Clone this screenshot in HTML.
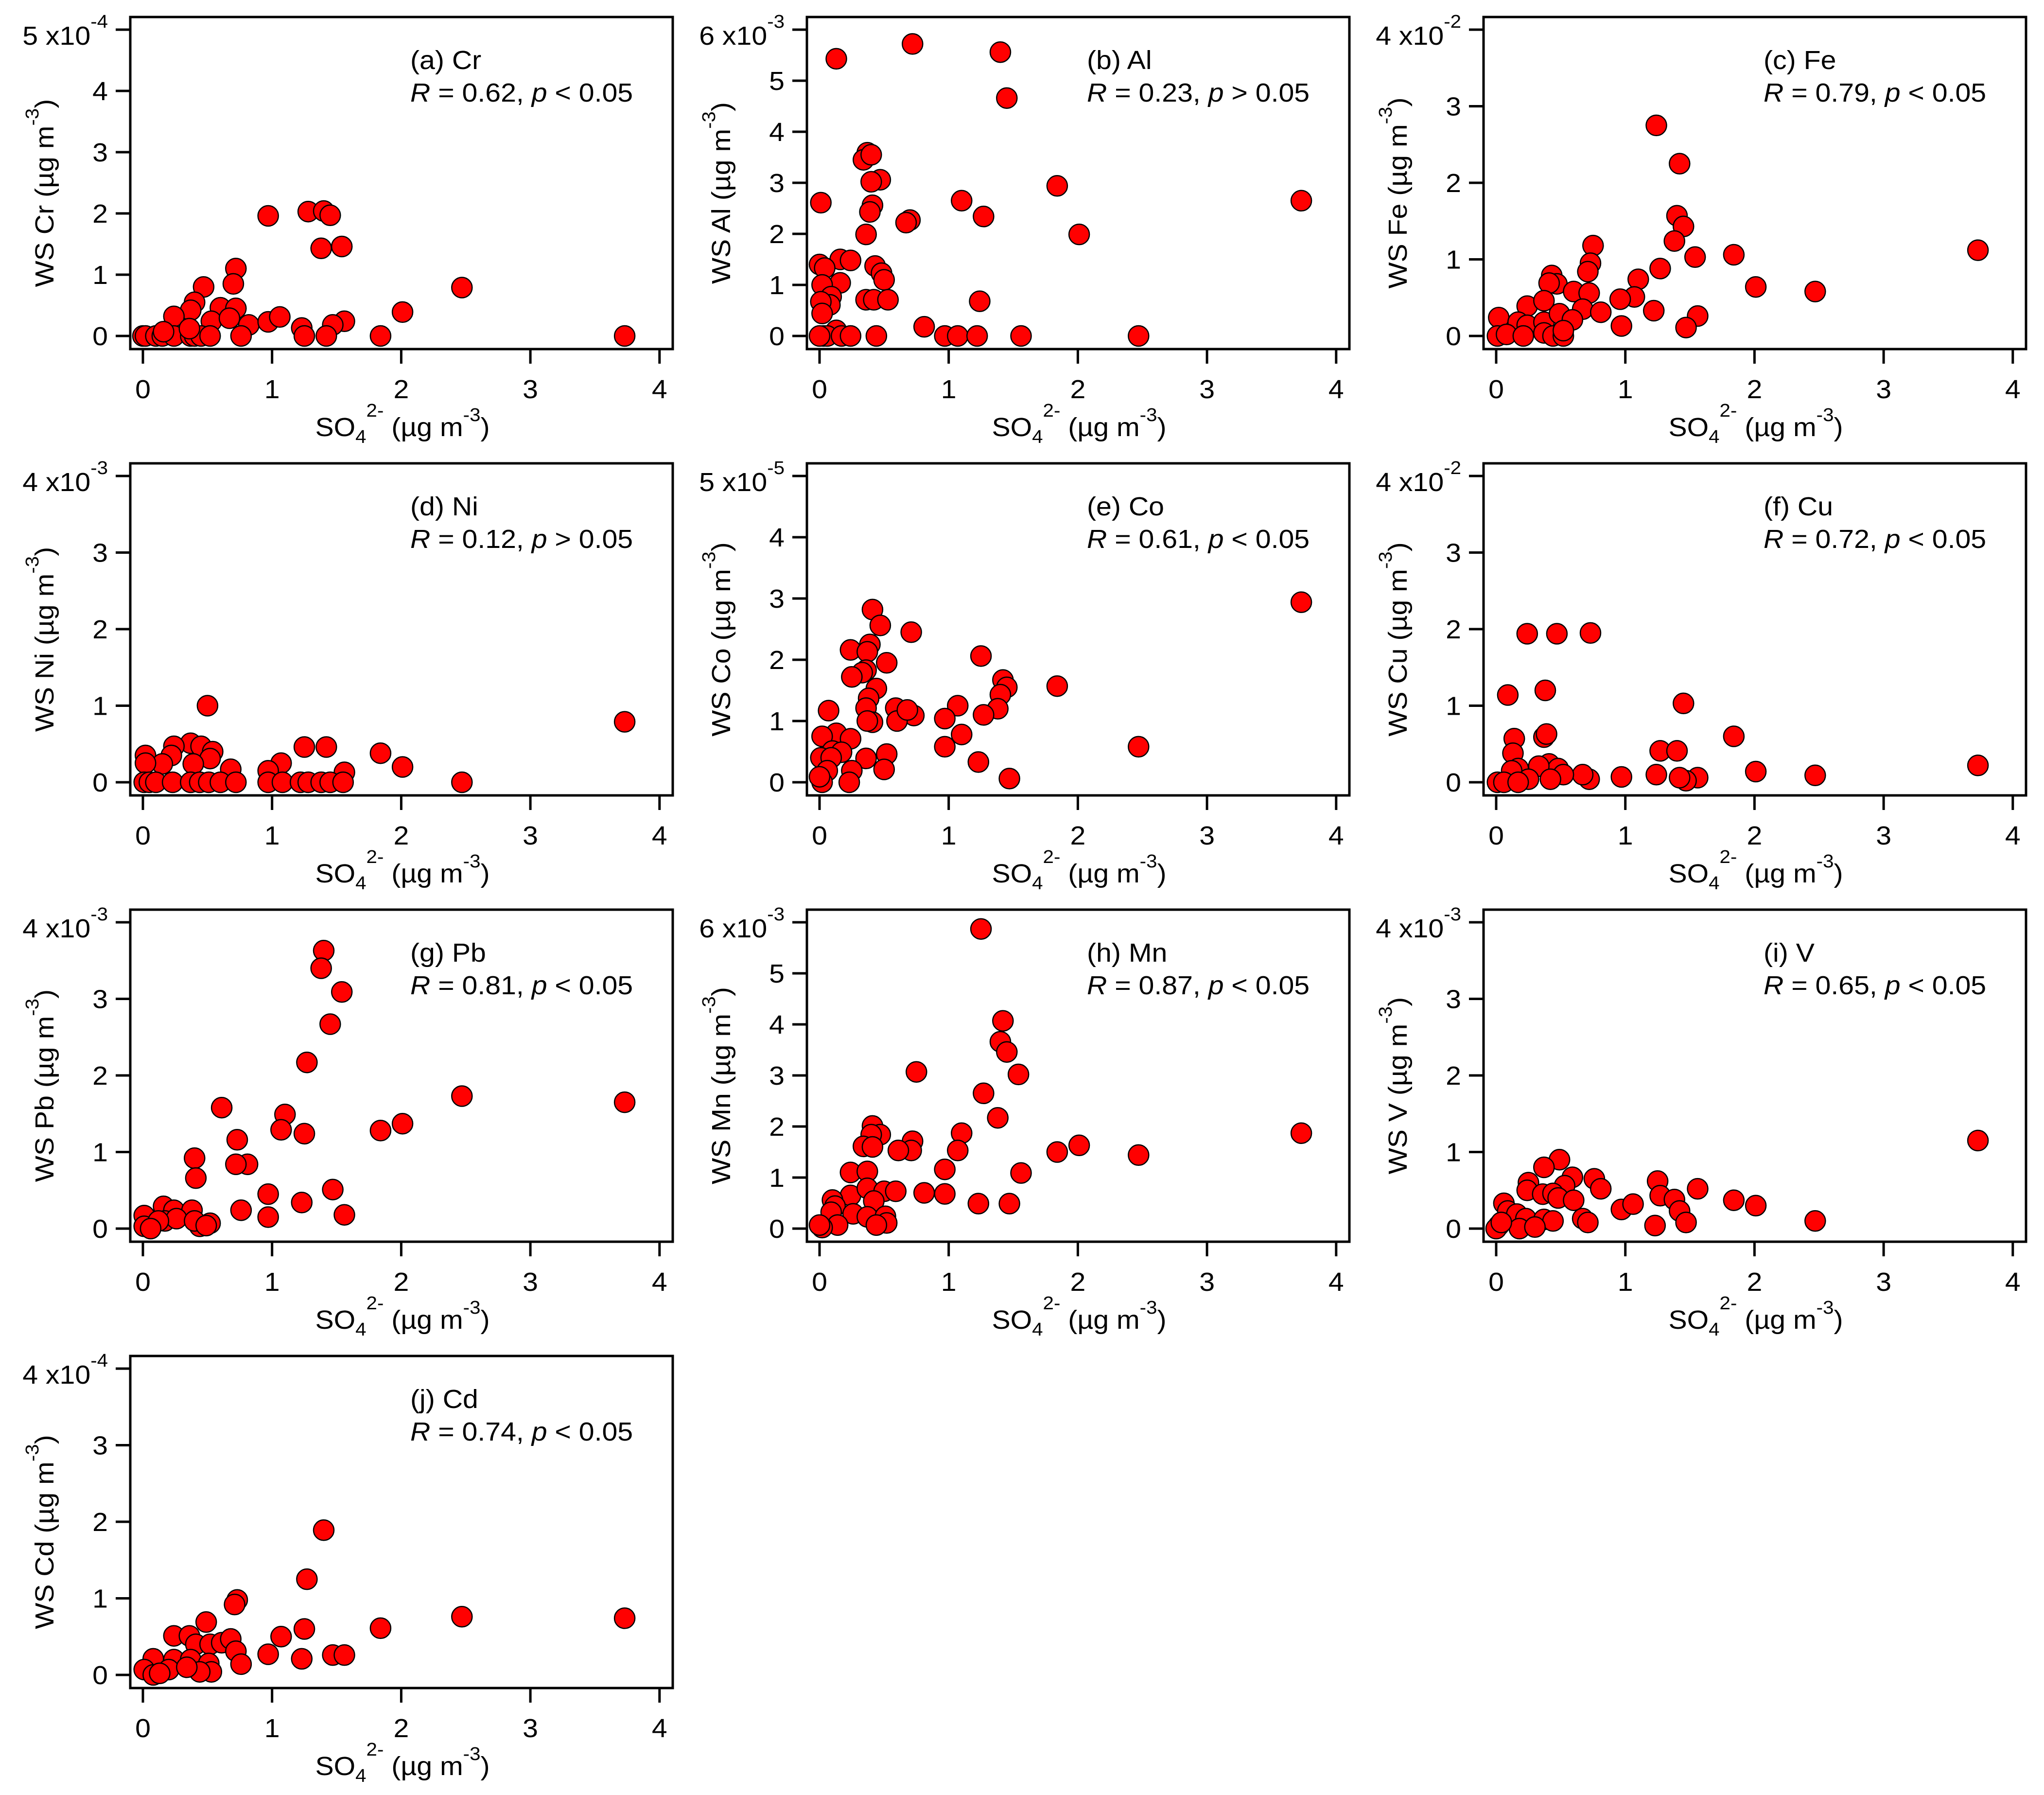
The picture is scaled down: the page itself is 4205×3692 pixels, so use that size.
<!DOCTYPE html>
<html>
<head>
<meta charset="utf-8">
<style>
  html, body { margin:0; padding:0; background:#fff; }
  svg { display:block; font-family:"Liberation Sans", Arial, sans-serif; }
</style>
</head>
<body>
<svg id="fig" xmlns="http://www.w3.org/2000/svg" width="4205" height="3692" viewBox="0 0 4205 3692"></svg>
<script>
// ---- data (x = SO4 2-, y = WS metal, in tick units) ----
const crX = [0.97,1.28,1.40,1.45,1.38,1.54,0.72,0.70,0.47,2.47,0.40,0.37,0.60,0.72,0.53,0.67,0.24,0.82,0.97,1.06,1.23,1.56,1.47,2.01,0.0,0.02,0.10,0.15,0.24,0.37,0.40,0.45,0.52,0.76,1.25,1.42,1.84,3.73,0.16,0.36];
const crY = [1.96,2.03,2.04,1.97,1.43,1.46,1.10,0.85,0.80,0.79,0.55,0.42,0.46,0.45,0.24,0.29,0.32,0.18,0.23,0.31,0.13,0.24,0.18,0.39,0,0,0,0,0,0,0,0,0,0,0,0,0,0,0.07,0.12];
const alX = [0.13,0.72,1.40,1.45,0.37,0.34,0.40,0.47,0.40,1.84,0.01,3.73,1.10,0.41,0.39,1.27,0.70,0.67,2.01,0.36,0.16,0.24,0.0,0.04,0.43,0.48,0.50,0.16,0.02,0.09,0.08,0.01,0.02,0.36,0.42,0.53,1.24,0.81,0.13,0.03,0.06,0.17,0.24,0.44,0.97,1.07,1.22,1.56,2.47,0.0];
const alY = [5.43,5.72,5.56,4.66,3.59,3.45,3.55,3.06,3.02,2.94,2.61,2.65,2.65,2.56,2.43,2.34,2.27,2.22,1.99,1.99,1.50,1.48,1.40,1.33,1.37,1.23,1.10,1.04,1.00,0.77,0.61,0.67,0.44,0.71,0.71,0.71,0.68,0.18,0.11,0,0,0,0,0,0,0,0,0,0,0];
const feX = [1.24,1.42,1.40,1.45,1.38,0.75,1.84,3.73,1.54,0.73,0.71,1.27,1.10,0.43,0.47,0.41,0.60,0.72,2.01,2.47,1.07,0.96,0.24,0.37,0.67,0.81,1.22,1.56,0.02,0.17,0.24,0.37,0.49,0.59,0.97,1.47,0.01,0.08,0.21,0.37,0.44,0.52,0.52];
const feY = [2.75,2.25,1.57,1.43,1.24,1.18,1.06,1.12,1.03,0.95,0.84,0.88,0.74,0.79,0.68,0.69,0.58,0.56,0.64,0.58,0.51,0.48,0.39,0.46,0.35,0.31,0.33,0.26,0.24,0.18,0.14,0.18,0.29,0.21,0.13,0.11,0,0.02,0,0.04,0,0,0.07];
const niX = [0.50,3.73,0.37,0.24,0.45,0.54,0.52,0.22,0.02,0.39,0.15,0.02,1.25,1.42,1.07,0.97,0.68,1.56,1.84,2.01,2.47,0.01,0.05,0.10,0.23,0.37,0.44,0.51,0.60,0.72,0.97,1.08,1.22,1.28,1.38,1.45,1.55];
const niY = [1.00,0.79,0.51,0.47,0.47,0.40,0.31,0.35,0.35,0.24,0.24,0.25,0.46,0.46,0.25,0.15,0.17,0.13,0.38,0.20,0,0,0,0,0,0,0,0,0,0,0,0,0,0,0,0,0];
const coX = [3.73,0.41,0.47,0.71,0.39,0.24,0.37,1.25,0.52,0.36,0.33,0.25,1.42,1.45,1.40,1.38,1.84,0.44,0.38,0.36,0.07,0.59,0.73,0.60,0.68,1.07,0.97,1.27,0.41,0.37,1.10,0.13,0.02,0.24,0.97,2.47,0.52,0.36,0.50,0.10,0.17,0.01,0.09,1.23,0.25,0.06,1.47,0.02,0.23,0.0];
const coY = [2.94,2.82,2.56,2.45,2.25,2.16,2.13,2.06,1.95,1.83,1.79,1.72,1.67,1.55,1.43,1.20,1.57,1.53,1.37,1.21,1.17,1.21,1.09,1.00,1.18,1.25,1.04,1.10,0.98,1.00,0.78,0.80,0.75,0.71,0.58,0.58,0.46,0.39,0.21,0.51,0.49,0.40,0.40,0.33,0.19,0.19,0.06,0,0,0.09];
const cuX = [0.24,0.47,0.73,0.09,0.38,1.45,0.14,0.37,0.39,1.84,0.13,1.27,1.40,3.73,2.01,2.47,0.97,1.24,1.56,1.47,1.42,0.72,0.67,0.41,0.48,0.33,0.17,0.12,0.52,0.42,0.25,0.01,0.06,0.17];
const cuY = [1.94,1.94,1.95,1.14,1.20,1.03,0.57,0.59,0.63,0.60,0.38,0.41,0.41,0.22,0.14,0.09,0.07,0.10,0.06,0.02,0.06,0.04,0.10,0.24,0.18,0.21,0.18,0.15,0.10,0.04,0.04,0,0,0];
const pbX = [1.40,1.38,1.54,1.45,1.27,2.47,3.73,0.61,1.10,1.07,1.25,1.84,2.01,0.73,0.40,0.81,0.72,0.41,0.97,1.47,1.23,0.76,0.97,1.56,0.16,0.24,0.38,0.01,0.17,0.26,0.44,0.52,0.01,0.12,0.40,0.49,0.06];
const pbY = [3.63,3.40,3.09,2.67,2.17,1.73,1.65,1.58,1.49,1.29,1.24,1.28,1.37,1.16,0.92,0.84,0.84,0.66,0.45,0.51,0.34,0.24,0.15,0.18,0.29,0.24,0.24,0.17,0.10,0.13,0.03,0.07,0.03,0.10,0.10,0.04,0];
const mnX = [1.25,1.42,1.40,1.45,1.54,0.75,1.27,1.38,0.41,0.47,0.40,0.34,0.41,0.72,0.71,0.61,1.10,1.07,3.73,2.01,1.84,2.47,0.97,1.56,0.24,0.37,0.24,0.37,0.50,0.59,0.42,0.81,0.97,1.23,1.47,0.10,0.12,0.26,0.09,0.37,0.51,0.52,0.44,0.14,0.02,0.0];
const mnY = [5.87,4.07,3.66,3.46,3.02,3.07,2.65,2.17,2.01,1.84,1.84,1.61,1.60,1.71,1.53,1.53,1.87,1.53,1.87,1.63,1.50,1.44,1.16,1.09,1.10,1.12,0.65,0.79,0.73,0.73,0.54,0.70,0.68,0.49,0.49,0.56,0.44,0.29,0.32,0.23,0.24,0.11,0.07,0.07,0.02,0.07];
const vX = [3.73,0.49,0.37,0.59,0.76,0.81,0.53,0.25,0.24,0.36,0.44,0.48,0.60,1.25,1.27,1.38,1.42,1.47,1.23,1.56,1.84,2.01,2.47,0.97,1.06,0.06,0.09,0.16,0.23,0.37,0.44,0.67,0.71,0.02,0.0,0.18,0.30,0.04];
const vY = [1.15,0.90,0.80,0.67,0.65,0.52,0.56,0.60,0.50,0.45,0.46,0.40,0.37,0.62,0.43,0.38,0.23,0.08,0.04,0.52,0.37,0.30,0.10,0.25,0.32,0.33,0.23,0.19,0.13,0.12,0.10,0.13,0.08,0.04,0,0,0.02,0.08];
const cdX = [1.40,1.27,0.73,0.71,2.47,3.73,0.49,1.84,1.25,1.07,0.24,0.36,0.41,0.52,0.61,0.68,0.72,0.97,1.23,1.47,1.56,0.76,0.08,0.24,0.37,0.51,0.53,0.44,0.01,0.08,0.20,0.34,0.13];
const cdY = [1.89,1.25,0.98,0.92,0.76,0.74,0.69,0.61,0.60,0.50,0.51,0.51,0.40,0.40,0.42,0.47,0.31,0.27,0.21,0.26,0.26,0.14,0.21,0.20,0.20,0.15,0.04,0.04,0.07,0,0.07,0.10,0.02];

// tick labels
const xTickLabels = ["0","1","2","3","4"];

// panel meta
const panelLetters = ["a","b","c","d","e","f","g","h","i","j"];
const panelElements = ["Cr","Al","Fe","Ni","Co","Cu","Pb","Mn","V","Cd"];
const panelR = ["0.62","0.23","0.79","0.12","0.61","0.72","0.81","0.87","0.65","0.74"];
const panelPSign = ["<",">","<",">","<","<","<","<","<","<"];
const panelYMax = [5,6,4,4,5,4,4,6,4,4];
const panelExp = ["-4","-3","-2","-3","-5","-2","-3","-3","-3","-4"];
const panelXs = [crX,alX,feX,niX,coX,cuX,pbX,mnX,vX,cdX];
const panelYs = [crY,alY,feY,niY,coY,cuY,pbY,mnY,vY,cdY];

const NS = "http://www.w3.org/2000/svg";
const svg = document.getElementById("fig");
const SX = 1.06;
const FS = 54;
const FSS = 38;

function mk(tag, attrs, parent) {
  const e = document.createElementNS(NS, tag);
  for (const k in attrs) e.setAttribute(k, attrs[k]);
  parent.appendChild(e);
  return e;
}
function tspan(parent, str, attrs) {
  const t = mk("tspan", attrs || {}, parent);
  t.textContent = str;
  return t;
}

for (let i = 0; i < 10; i++) {
  const col = i % 3, row = Math.floor(i / 3);
  const ox = 1392 * col, oy = 918 * row;
  const el = panelElements[i];
  const ymax = panelYMax[i];
  const xs = panelXs[i], ys = panelYs[i];
  const X0 = 294 + ox, XU = 265.7;
  const Y0 = 691 + oy, YSPAN = 630;
  const sx = v => X0 + v * XU;
  const sy = v => Y0 - v / ymax * YSPAN;

  const g = mk("g", {}, svg);
  
  

  const pts = mk("g", {}, g);
  
  
  for (let k = 0; k < xs.length; k++) {
    const c = mk("circle", {cx: sx(xs[k]).toFixed(1), cy: sy(ys[k]).toFixed(1), r: 21, fill: "#ff0000", stroke: "#000", "stroke-width": 2.5}, pts);
    
    
  }

  const box = mk("rect", {x: 268 + ox, y: 35 + oy, width: 1116, height: 683, fill: "none", stroke: "#000", "stroke-width": 5}, g);
  
  

  for (let t = 0; t <= 4; t++) {
    const x = sx(t);
    const tk = mk("line", {x1: x, x2: x, y1: 718 + oy, y2: 748 + oy, stroke: "#000", "stroke-width": 5}, g);
    
    
    const lb = mk("text", {transform: `translate(${x},${819 + oy}) scale(${SX},1)`, "text-anchor": "middle", "font-size": FS}, g);
    lb.textContent = xTickLabels[t];
    
    
  }
  for (let t = 0; t <= ymax; t++) {
    const y = sy(t);
    const tk = mk("line", {x1: 238 + ox, x2: 268 + ox, y1: y, y2: y, stroke: "#000", "stroke-width": 5}, g);
    
    
    if (t < ymax) {
      const lb = mk("text", {transform: `translate(${222 + ox},${y + 19}) scale(${SX},1)`, "text-anchor": "end", "font-size": FS}, g);
      lb.textContent = String(t);
      
      
    } else {
      const lb = mk("text", {transform: `translate(${222 + ox},${y + 31}) scale(${SX},1)`, "text-anchor": "end", "font-size": FS}, g);
      tspan(lb, t + " x10");
      tspan(lb, panelExp[i], {"font-size": FSS, dy: -35});
      
      
    }
  }

  const xt = mk("text", {transform: `translate(${828 + ox},${897 + oy}) scale(${SX},1)`, "text-anchor": "middle", "font-size": FS}, g);
  tspan(xt, "SO");
  tspan(xt, "4", {"font-size": FSS, dy: 14});
  tspan(xt, "2-", {"font-size": FSS, dy: -54});
  tspan(xt, " (µg m", {dy: 40});
  tspan(xt, "-3", {"font-size": FSS, dy: -31});
  tspan(xt, ")", {dy: 31});
  
  

  const yt = mk("text", {transform: `translate(${110 + ox},${397 + oy}) rotate(-90) scale(${SX},1)`, "text-anchor": "middle", "font-size": FS}, g);
  tspan(yt, "WS " + el + " (µg m");
  tspan(yt, "-3", {"font-size": FSS, dy: -31});
  tspan(yt, ")", {dy: 31});
  
  

  const a1 = mk("text", {transform: `translate(${844 + ox},${142 + oy}) scale(${SX},1)`, "font-size": FS}, g);
  a1.textContent = "(" + panelLetters[i] + ") " + el;
  
  
  const a2 = mk("text", {transform: `translate(${844 + ox},${209 + oy}) scale(${SX},1)`, "font-size": FS}, g);
  tspan(a2, "R", {"font-style": "italic"});
  tspan(a2, " = " + panelR[i] + ", ");
  tspan(a2, "p", {"font-style": "italic"});
  tspan(a2, " " + panelPSign[i] + " 0.05");
  
  
}
</script>
</body>
</html>
